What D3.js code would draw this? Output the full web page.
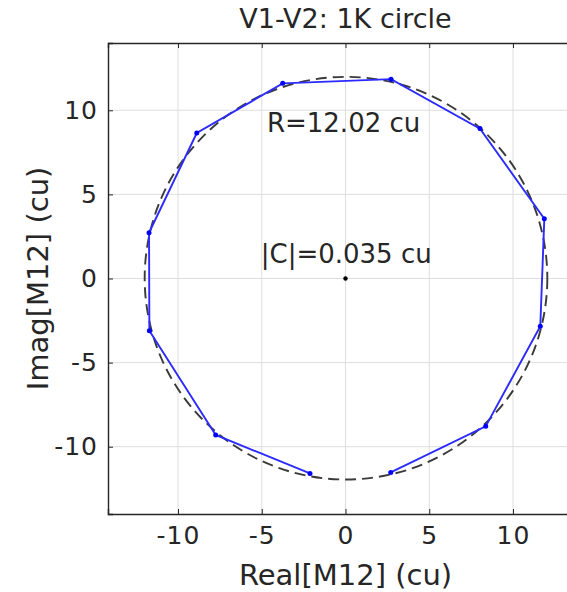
<!DOCTYPE html>
<html>
<head>
<meta charset="utf-8">
<script src="https://cdn.jsdelivr.net/npm/d3@7"></script>
<style>
  html, body { margin: 0; padding: 0; background: #fff; }
  svg { display: block; font-family: "DejaVu Sans", sans-serif; }
</style>
</head>
<body>
<svg id="chart" width="567" height="592"></svg>
<script>
// ---- data ----
const realM12 = [-2.12, -7.75, -11.71, -11.73, -8.88, -3.75, 2.72, 8.03, 11.87, 11.63, 8.37, 2.70];
const imagM12 = [-11.59, -9.30, -3.10, 2.72, 8.65, 11.60, 11.85, 8.91, 3.55, -2.84, -8.79, -11.53];
const fitRadius = 12.02;
const fitCenter = [0.03, 0.02];
const xTicks = [-10, -5, 0, 5, 10];
const yTicks = [-10, -5, 0, 5, 10];
const xTickLabels = ["-10", "-5", "0", "5", "10"];
const yTickLabels = ["-10", "-5", "0", "5", "10"];
const titleText = "V1-V2: 1K circle";
const xLabel = "Real[M12] (cu)";
const yLabel = "Imag[M12] (cu)";
const annR = "R=12.02 cu";
const annC = "|C|=0.035 cu";

(function () {
const svg = d3.select("#chart");
const pl = 108, pr = 583, pt = 43, pb = 514;
const x = d3.scaleLinear().domain([-14.18, 14.18]).range([pl, pr]);
const y = d3.scaleLinear().domain([-14, 14]).range([pb, pt]);
const txt = "#262626";

// grid
const g = svg.append("g");
g.selectAll(".vg").data(xTicks).join("line")
  .attr("x1", d => x(d)).attr("x2", d => x(d)).attr("y1", pt).attr("y2", pb)
  .attr("stroke", "#dedede").attr("stroke-width", 1);
g.selectAll(".hg").data(yTicks).join("line")
  .attr("y1", d => y(d)).attr("y2", d => y(d)).attr("x1", pl).attr("x2", pr)
  .attr("stroke", "#dedede").attr("stroke-width", 1);

// axes
const xAxis = d3.axisBottom(x).tickValues(xTicks).tickSize(-5).tickPadding(12)
  .tickFormat((d, i) => xTickLabels[i]);
const xAxisTop = d3.axisTop(x).tickValues(xTicks).tickSize(-5).tickFormat("");
const yAxis = d3.axisLeft(y).tickValues(yTicks).tickSize(-5).tickPadding(10)
  .tickFormat((d, i) => yTickLabels[i]);
function style(sel) {
  sel.select(".domain").attr("stroke", txt).attr("stroke-width", 1.4);
  sel.selectAll(".tick line").attr("stroke", txt).attr("stroke-width", 1);
  sel.selectAll(".tick text").attr("fill", txt).attr("font-size", 25)
    .attr("letter-spacing", 1).attr("font-family", "DejaVu Sans");
}
svg.append("g").attr("transform", `translate(0,${pb})`).call(xAxis).call(style);
svg.append("g").attr("transform", `translate(0,${pt})`).call(xAxisTop).call(style);
svg.append("g").attr("transform", `translate(${pl},0)`).call(yAxis).call(style);

// dashed fitted circle
svg.append("circle")
  .attr("cx", x(fitCenter[0])).attr("cy", y(fitCenter[1]))
  .attr("r", x(fitRadius) - x(0))
  .attr("fill", "none").attr("stroke", "#3a3a3a").attr("stroke-width", 1.9)
  .attr("stroke-dasharray", "11,6");

// data polyline
const pts = realM12.map((v, i) => [v, imagM12[i]]);
svg.append("path")
  .attr("d", d3.line().x(d => x(d[0])).y(d => y(d[1]))(pts))
  .attr("fill", "none").attr("stroke", "#2b2bff").attr("stroke-width", 1.9);
svg.selectAll(".pt").data(pts).join("circle")
  .attr("cx", d => x(d[0])).attr("cy", d => y(d[1])).attr("r", 2.5)
  .attr("fill", "#0000ff");

// center dot
svg.append("circle").attr("cx", x(0)).attr("cy", y(0)).attr("r", 2.2).attr("fill", "#000");

// annotations
svg.append("text").attr("x", x(-4.69)).attr("y", y(8.7)).attr("font-size", 26).attr("fill", txt).text(annR);
svg.append("text").attr("x", x(-5.06)).attr("y", y(0.9)).attr("font-size", 26).attr("fill", txt).text(annC);

// title
svg.append("text").attr("x", (pl + pr) / 2).attr("y", 28).attr("text-anchor", "middle")
  .attr("font-size", 27).attr("fill", txt).text(titleText);
// axis labels
svg.append("text").attr("x", (pl + pr) / 2).attr("y", 585).attr("text-anchor", "middle")
  .attr("font-size", 29).attr("fill", txt).text(xLabel);
svg.append("text").attr("transform", `translate(48,${(pt + pb) / 2}) rotate(-90)`)
  .attr("text-anchor", "middle").attr("font-size", 29).attr("fill", txt).text(yLabel);
})();
</script>
</body>
</html>
